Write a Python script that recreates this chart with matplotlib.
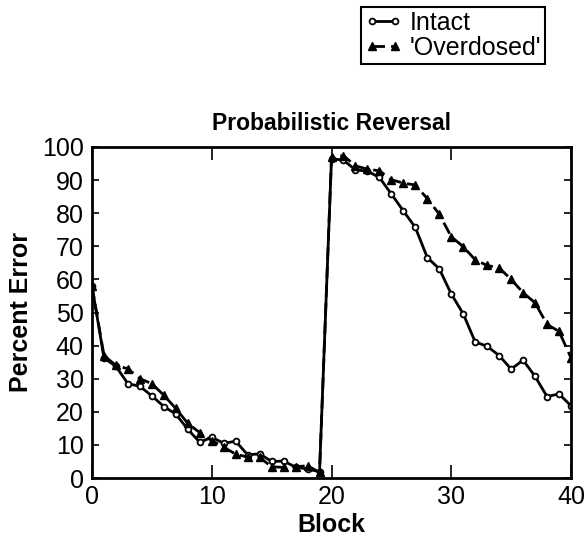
import matplotlib
matplotlib.use("Agg")
import matplotlib.pyplot as plt

blocks = list(range(41))
intact = [58, 36.3, 33.7, 28.5, 27.7, 24.8, 21.6, 19.3, 14.7, 10.8,
          12.3, 10.5, 11.1, 7.0, 7.3, 5.0, 5.1, 3.3, 2.7, 1.9,
          96.5, 96.0, 93.1, 92.7, 90.8, 85.8, 80.7, 75.7, 66.6, 63.2,
          55.6, 49.6, 41.1, 39.8, 37.0, 32.9, 35.6, 30.7, 24.6, 25.4,
          21.8]
overdosed = [58, 37.0, 34.0, 33.0, 30.0, 28.5, 25.0, 21.0, 16.5, 13.7,
             11.3, 9.3, 7.2, 6.3, 6.2, 3.4, 3.2, 3.4, 3.7, 1.7,
             97.0, 97.4, 94.3, 93.3, 92.8, 90.1, 89.1, 88.5, 84.4, 79.7,
             72.9, 69.9, 65.9, 64.2, 63.5, 60.0, 56.0, 52.9, 46.4, 44.3,
             36.3]
xticks = [0, 10, 20, 30, 40]
yticks = list(range(0, 101, 10))

plt.rcParams['font.family'] = ['Liberation Sans', 'DejaVu Sans']

fig = plt.figure(figsize=(5.87, 5.36), dpi=100)
ax = fig.add_axes([92/587, 1-478/536, (571-92)/587, (478-147)/536])

ax.plot(blocks, intact, '-', color='black', lw=2, marker='o', ms=4.2,
        mfc='white', mec='black', mew=1.3, label='Intact')
ax.plot(blocks, overdosed, '--', color='black', lw=2, marker='^', ms=5.5,
        mfc='black', mec='black', dashes=(4.5, 2.2), label="'Overdosed'")

ax.set_xlim(0, 40)
ax.set_ylim(0, 100)
ax.set_xticks(xticks)
ax.set_yticks(yticks)
ax.tick_params(axis='both', direction='in', top=True, right=True,
               labelsize=18, width=1.2)
ax.tick_params(axis='x', length=9.5, pad=5)
ax.tick_params(axis='y', length=5, pad=6)
for s in ax.spines.values():
    s.set_linewidth(2)

ax.set_xlabel('Block', fontsize=18, fontweight='bold', labelpad=3)
ax.set_ylabel('Percent Error', fontsize=18, fontweight='bold', labelpad=6)
ax.set_title('Probabilistic Reversal', fontsize=16.5, fontweight='bold', pad=12)

leg = fig.legend(loc='upper left', bbox_to_anchor=(361/587, 1-7/536),
                 fontsize=18, numpoints=2, handlelength=1.5,
                 handletextpad=0.3, borderpad=0.15, labelspacing=0.05,
                 borderaxespad=0, fancybox=False, edgecolor='black',
                 framealpha=1)
leg.get_frame().set_linewidth(1.5)

fig.savefig('out.png', dpi=100)
